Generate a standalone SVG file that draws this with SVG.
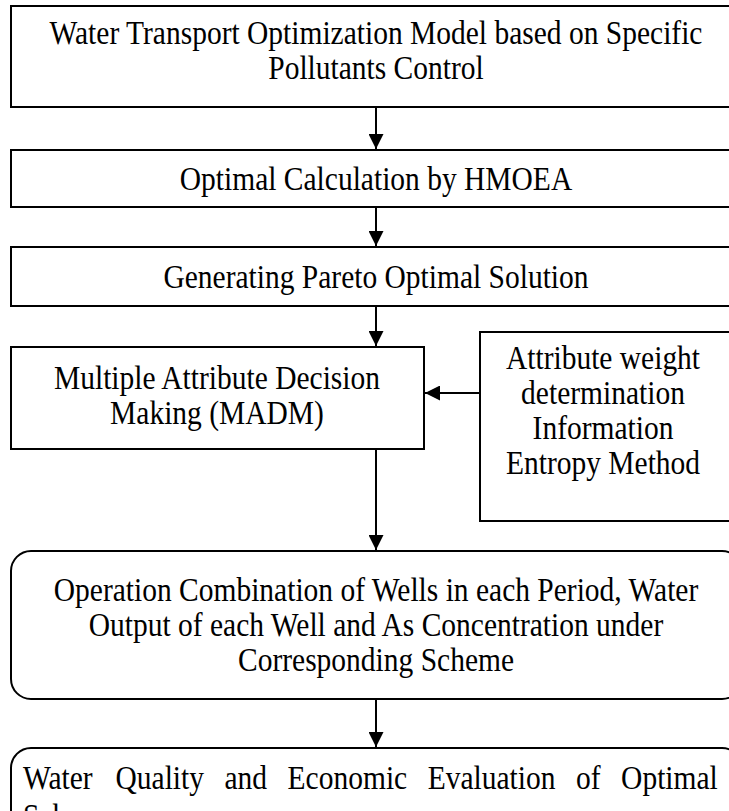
<svg xmlns="http://www.w3.org/2000/svg" width="729" height="811" viewBox="0 0 729 811">
<style>
.box{fill:#fff;stroke:#000;stroke-width:2}
.t{font-family:"Liberation Serif","Times New Roman",serif;font-size:29.5px;fill:#000;text-anchor:middle}
.tl{font-family:"Liberation Serif","Times New Roman",serif;font-size:29.5px;fill:#000}
.c{stroke:#000;stroke-width:2;fill:none;marker-end:url(#ah)}
</style>
<defs>
<marker id="ah" markerUnits="userSpaceOnUse" markerWidth="15" markerHeight="15" refX="15" refY="7.5" orient="auto">
<path d="M0,0 L15,7.5 L0,15 Z" fill="#000"/>
</marker>
</defs>
<rect width="729" height="811" fill="#fff"/>
<g id="connectors">
<line class="c" x1="376" y1="107" x2="376" y2="149"/>
<line class="c" x1="376" y1="207" x2="376" y2="246"/>
<line class="c" x1="376" y1="306" x2="376" y2="346"/>
<line class="c" x1="480" y1="393" x2="425" y2="393"/>
<line class="c" x1="376" y1="449" x2="376" y2="550"/>
<line class="c" x1="376" y1="699" x2="376" y2="747"/>
</g>
<g id="n1">
<rect class="box" x="11" y="6" width="731" height="101"/>
<text class="t" transform="translate(376,44) scale(1,1.12)">Water Transport Optimization Model based on Specific</text>
<text class="t" transform="translate(376,79) scale(1,1.12)">Pollutants Control</text>
</g>
<g id="n2">
<rect class="box" x="11" y="150" width="731" height="57"/>
<text class="t" transform="translate(376,190) scale(1,1.12)">Optimal Calculation by HMOEA</text>
</g>
<g id="n3">
<rect class="box" x="11" y="247" width="731" height="59"/>
<text class="t" transform="translate(376,288) scale(1,1.12)">Generating Pareto Optimal Solution</text>
</g>
<g id="n4">
<rect class="box" x="11" y="347" width="413" height="102"/>
<text class="t" transform="translate(217,389) scale(1,1.12)">Multiple Attribute Decision</text>
<text class="t" transform="translate(217,424) scale(1,1.12)">Making (MADM)</text>
</g>
<g id="n5">
<rect class="box" x="480" y="332" width="252" height="189"/>
<text class="t" transform="translate(603,369) scale(1,1.12)">Attribute weight</text>
<text class="t" transform="translate(603,404) scale(1,1.12)">determination</text>
<text class="t" transform="translate(603,439) scale(1,1.12)">Information</text>
<text class="t" transform="translate(603,474) scale(1,1.12)">Entropy Method</text>
</g>
<g id="n6">
<rect class="box" x="11" y="551" width="731" height="148" rx="20" ry="20"/>
<text class="t" transform="translate(376,601) scale(1,1.12)">Operation Combination of Wells in each Period, Water</text>
<text class="t" transform="translate(376,636) scale(1,1.12)">Output of each Well and As Concentration under</text>
<text class="t" transform="translate(376,671) scale(1,1.12)">Corresponding Scheme</text>
</g>
<g id="n7">
<rect class="box" x="11" y="748" width="731" height="120" rx="20" ry="20"/>
<text class="tl" transform="translate(0,789) scale(1,1.12)"><tspan x="23">Water</tspan><tspan x="115.5">Quality</tspan><tspan x="224.5">and</tspan><tspan x="287.6">Economic</tspan><tspan x="427.7">Evaluation</tspan><tspan x="576">of</tspan><tspan x="621.1">Optimal</tspan></text>
<text class="tl" transform="translate(23,827) scale(1,1.12)">Scheme</text>
</g>
</svg>
